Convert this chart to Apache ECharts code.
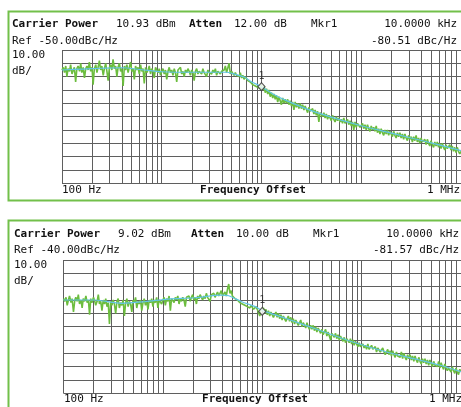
<!DOCTYPE html>
<html><head><meta charset="utf-8">
<script src="https://cdn.jsdelivr.net/npm/echarts@6/dist/echarts.min.js"></script>
<style>html,body{margin:0;padding:0;background:#fff}#c{width:461px;height:407px}</style>
</head><body><div id="c"></div>
<script>
// Sweep frequencies (Hz), shared by both traces
const freqs = [
100,103,106,109,112,115,119,122,126,130,133,137,141,145,150,154,158,163,168,173,178,183,188,194,200,205,211,218,224,230,237,244,251,259,266,274,282,290,299,307,316,325,335,345,355,365,376,387,398,410,422,434,447,460,473,487,501,516,531,546,562,579,596,613,631,649,668,688,708,729,750,772,794,818,841,866,891,917,944,972,
1000,1029,1059,1090,1122,1155,1189,1223,1259,1296,1334,1372,1413,1454,1496,1540,1585,1631,1679,1728,1778,1830,1884,1939,1995,2054,2113,2175,2239,2304,2371,2441,2512,2585,2661,2738,2818,2901,2985,3072,3162,3255,3350,3447,3548,3652,3758,3868,3981,4097,4217,4340,4467,4597,4732,4870,5012,5158,5309,5464,5623,5788,5957,6131,6310,6494,6683,6879,7079,7286,7499,7718,7943,8175,8414,8660,8913,9173,9441,9716,
10000,10292,10593,10902,11220,11548,11885,12232,12589,12957,13335,13725,14125,14537,14962,15399,15849,16312,16788,17278,17783,18302,18836,19387,19953,20535,21135,21752,22387,23041,23714,24406,25119,25852,26607,27384,28184,29007,29854,30726,31623,32546,33497,34475,35481,36517,37584,38681,39811,40973,42170,43401,44668,45973,47315,48697,50119,51582,53088,54639,56234,57876,59566,61306,63096,64938,66834,68786,70795,72862,74989,77179,79433,81752,84140,86596,89125,91728,94406,97163,
100000,102920,105925,109018,112202,115478,118850,122321,125893,129569,133352,137246,141254,145378,149624,153993,158489,163117,167880,172783,177828,183021,188365,193865,199526,205353,211349,217520,223872,230409,237137,244062,251189,258523,266073,273842,281838,290068,298538,307256,316228,325462,334965,344747,354813,365174,375837,386812,398107,409732,421697,434010,446684,459727,473151,486968,501187,515822,530884,546387,562341,578762,595662,613056,630957,649382,668344,687860,707946,728618,749894,771792,794328,817523,841395,865964,891251,917276,944061,971628,1000000];

// Upper plot: raw trace (dBc/Hz)
const topTrace = [
-65,-63,-67,-62,-70,-64,-66,-61,-68,-65,
-63,-74,-64,-62,-66,-60,-67,-63,-71,-64,
-62,-65,-59,-66,-63,-76,-64,-61,-67,-63,
-58,-65,-62,-69,-64,-60,-66,-73,-63,-61,
-65,-57,-64,-62,-70,-63,-60,-66,-64,-77,
-62,-65,-61,-67,-63,-59,-66,-64,-72,-62,
-65,-63,-68,-61,-66,-64,-75,-63,-67,-65,
-62,-68,-64,-66,-71,-63,-65,-67,-64,-69,
-66,-64,-68,-65,-72,-66,-63,-67,-65,-69,
-64,-67,-74,-65,-66,-63,-68,-66,-70,-65,
-67,-64,-66,-69,-65,-67,-73,-66,-64,-68,
-66,-65,-68,-64,-67,-66,-70,-65,-67,-66,
-68,-65,-67,-64,-69,-66,-65,-68,-66,-67,
-65,-62,-67,-66,-60,-68,-66,-67,-69,-67,
-69,-68,-70,-67,-71,-69,-72,-70,-71,-73,
-72,-74,-73,-76,-75,-77,-76,-78,-77,-79,
-76,-80,-77,-82,-79,-83,-80,-85,-82,-86,
-83,-87,-84,-89,-85,-88,-91,-86,-90,-87,
-90,-87,-91,-88,-92,-89,-95,-89,-93,-90,
-94,-90,-94,-91,-95,-92,-91,-97,-93,-96,
-97,-94,-98,-95,-99,-96,-104,-97,-96,-100,
-97,-101,-98,-102,-99,-98,-103,-99,-102,-104,
-100,-103,-101,-104,-102,-105,-101,-105,-106,-102,
-106,-103,-107,-104,-110,-104,-108,-105,-104,-108,
-108,-105,-109,-106,-110,-106,-109,-111,-107,-110,
-108,-111,-107,-112,-109,-113,-109,-112,-114,-110,
-113,-110,-114,-111,-110,-115,-111,-114,-116,-112,
-115,-112,-116,-113,-117,-113,-116,-118,-114,-117,
-115,-119,-115,-118,-114,-119,-116,-120,-116,-119,
-120,-117,-121,-117,-120,-122,-118,-121,-123,-119,
-122,-119,-123,-120,-124,-120,-123,-125,-121,-124,
-124,-121,-125,-122,-126,-123,-127,-123,-126,-128,
-126];
// Upper plot: smoothed trace
const topSmoothF = [100,160,251,398,631,1000,2000,4500,5600,6800,7900,10000,13000,17800,31600,56000,100000,178000,316000,562000,1000000];
const topSmoothV = [-65,-64.3,-63.7,-63.3,-64.8,-66.3,-66.7,-66.7,-68.5,-70.5,-73.8,-77.5,-83,-88,-95.5,-101.5,-106.8,-111.4,-116,-120.6,-125.5];

// Lower plot: raw trace
const botTrace = [
-69,-71,-68,-74,-70,-67,-72,-69,-79,-70,
-68,-71,-66,-73,-70,-76,-69,-71,-67,-72,
-70,-81,-69,-72,-68,-70,-74,-71,-66,-73,
-71,-78,-70,-73,-69,-75,-72,-88,-71,-74,
-70,-73,-80,-71,-69,-76,-72,-74,-70,-82,
-72,-69,-75,-71,-73,-79,-70,-72,-68,-76,
-71,-73,-70,-78,-72,-69,-74,-71,-77,-70,
-72,-69,-75,-70,-72,-68,-76,-70,-71,-73,
-70,-68,-74,-69,-71,-67,-78,-69,-70,-72,
-68,-70,-67,-73,-69,-71,-68,-70,-75,-68,
-69,-67,-71,-68,-66,-70,-68,-73,-67,-69,
-66,-68,-70,-67,-69,-65,-68,-67,-71,-66,
-67,-65,-68,-66,-64,-67,-65,-63,-67,-66,
-64,-67,-62,-58,-65,-63,-67,-66,-69,-68,
-70,-69,-72,-71,-73,-72,-74,-73,-75,-74,
-76,-74,-75,-77,-76,-75,-77,-78,-82,-78,
-79,-76,-80,-77,-81,-78,-82,-79,-78,-83,
-82,-79,-83,-80,-84,-81,-85,-82,-81,-86,
-85,-82,-86,-83,-87,-84,-88,-85,-84,-89,
-88,-85,-90,-87,-86,-91,-87,-90,-92,-89,
-92,-89,-93,-90,-94,-91,-90,-95,-92,-96,
-95,-92,-97,-94,-93,-100,-95,-94,-98,-95,
-99,-96,-100,-97,-96,-101,-98,-102,-99,-98,
-102,-99,-103,-100,-104,-101,-100,-105,-102,-105,
-105,-103,-106,-104,-107,-103,-107,-108,-104,-107,
-108,-105,-109,-106,-105,-109,-110,-106,-109,-111,
-110,-107,-111,-108,-112,-108,-111,-113,-109,-112,
-112,-113,-109,-114,-110,-113,-115,-111,-114,-111,
-115,-112,-116,-112,-115,-117,-113,-116,-118,-114,
-117,-114,-118,-115,-119,-115,-118,-120,-116,-119,
-119,-120,-116,-121,-117,-120,-122,-118,-121,-123,
-121,-120,-124,-120,-123,-125,-121,-124,-126,-122,
-124];
const botSmoothF = [100,206,383,658,1130,2100,3900,4600,6200,8500,10000,17100,37000,80000,175000,380000,603000,1000000];
const botSmoothV = [-70,-70,-72.5,-71.3,-69.3,-68.3,-66.3,-66.8,-71.3,-75,-77.8,-83.7,-92.5,-101.3,-108.8,-115,-118.8,-123.8];

const topInfo = {carrier:'10.93 dBm', atten:'12.00 dB', ref:'Ref -50.00dBc/Hz', mkrF:'10.0000 kHz', mkrV:'-80.51 dBc/Hz', refLevel:-50, mkrFreq:10000, mkrVal:-80.51};
const botInfo = {carrier:'9.02 dBm', atten:'10.00 dB', ref:'Ref -40.00dBc/Hz', mkrF:'10.0000 kHz', mkrV:'-81.57 dBc/Hz', refLevel:-40, mkrFreq:10000, mkrVal:-81.57};
const scaleLabel = ['10.00','dB/'];
const xLabels = ['100 Hz','Frequency Offset','1 MHz'];

const FONT = '"DejaVu Sans Mono", "Liberation Mono", monospace';
const GRID = '#5f5f5f';
const GREEN = '#72c04a';

function pairs(f, v){ return f.map((x,i)=>[x, v[i]]); }

const grids = [
  {left:62, top:50, width:399, height:133.3},
  {left:63.5, top:260, width:399, height:133.3}
];
function xAx(i){ return {type:'log', logBase:10, min:100, max:1000000, gridIndex:i,
  axisLine:{show:false}, axisTick:{show:false}, axisLabel:{show:false},
  splitLine:{show:true, lineStyle:{color:GRID, width:1}},
  minorTick:{show:false, splitNumber:9},
  minorSplitLine:{show:true, lineStyle:{color:GRID, width:1}}}; }
function yAx(i, ref){ return {type:'value', min:ref-100, max:ref, interval:10, gridIndex:i,
  axisLine:{show:false}, axisTick:{show:false}, axisLabel:{show:false},
  splitLine:{show:true, lineStyle:{color:GRID, width:1}}}; }

function traceSeries(i, data, smooth, info){
  return [
    {type:'line', xAxisIndex:i, yAxisIndex:i, data:pairs(freqs, data), showSymbol:false, symbol:'none',
      lineStyle:{color:'#6cbd3e', width:1.6}, z:3, animation:false},
    {type:'line', xAxisIndex:i, yAxisIndex:i, data:smooth, showSymbol:false, symbol:'none', smooth:0.3,
      lineStyle:{color:'#62c5e6', width:1.2}, z:4, animation:false},
    {type:'scatter', xAxisIndex:i, yAxisIndex:i, data:[[info.mkrFreq, info.mkrVal]], symbol:'diamond', symbolSize:[7,8],
      symbolOffset:[0,-4],
      itemStyle:{color:'#fff', borderColor:'#333', borderWidth:1.2}, z:5, animation:false,
      label:{show:true, formatter:'1', position:'top', distance:1, fontFamily:FONT, fontSize:10, color:'#222'}}
  ];
}

function headerTexts(y0, info, dx){
  const t = (text, x, y, bold, align) => ({type:'text', x:x, y:y, silent:true,
    style:{text:text, font:(bold?'bold ':'')+'11px '+FONT, fill:'#111', textAlign:align||'left', textVerticalAlign:'middle'}});
  return [
    t('Carrier Power', 12+dx, y0, true),
    t(info.carrier, 116+dx, y0),
    t('Atten', 189+dx, y0, true),
    t(info.atten, 234+dx, y0),
    t('Mkr1', 311+dx, y0),
    t(info.mkrF, 457+dx, y0, false, 'right'),
    t(info.ref, 12+dx, y0+16.5),
    t(info.mkrV, 457+dx, y0+16.5, false, 'right'),
    t(scaleLabel[0], 12+dx, y0+31),
    t(scaleLabel[1], 12+dx, y0+47),
    t(xLabels[0], 62+dx, y0+165.5),
    t(xLabels[1], 253+dx, y0+165.5, true, 'center'),
    t(xLabels[2], 460+dx, y0+165.5, false, 'right')
  ];
}

const graphics = [
  {type:'rect', shape:{x:8.5, y:11.5, width:470, height:189}, style:{fill:null, stroke:GREEN, lineWidth:2}, silent:true, z:-1},
  {type:'rect', shape:{x:8.5, y:220.5, width:470, height:200}, style:{fill:null, stroke:GREEN, lineWidth:2}, silent:true, z:-1}
].concat(headerTexts(24.5, topInfo, 0), headerTexts(234, botInfo, 2));

const chart = echarts.init(document.getElementById('c'), null, {renderer:'canvas'});
chart.setOption({
  animation:false,
  backgroundColor:'#fff',
  grid:grids,
  xAxis:[xAx(0), xAx(1)],
  yAxis:[yAx(0, topInfo.refLevel), yAx(1, botInfo.refLevel)],
  series:[].concat(traceSeries(0, topTrace, pairs(topSmoothF, topSmoothV), topInfo),
                   traceSeries(1, botTrace, pairs(botSmoothF, botSmoothV), botInfo)),
  graphic:graphics
});
</script></body></html>
